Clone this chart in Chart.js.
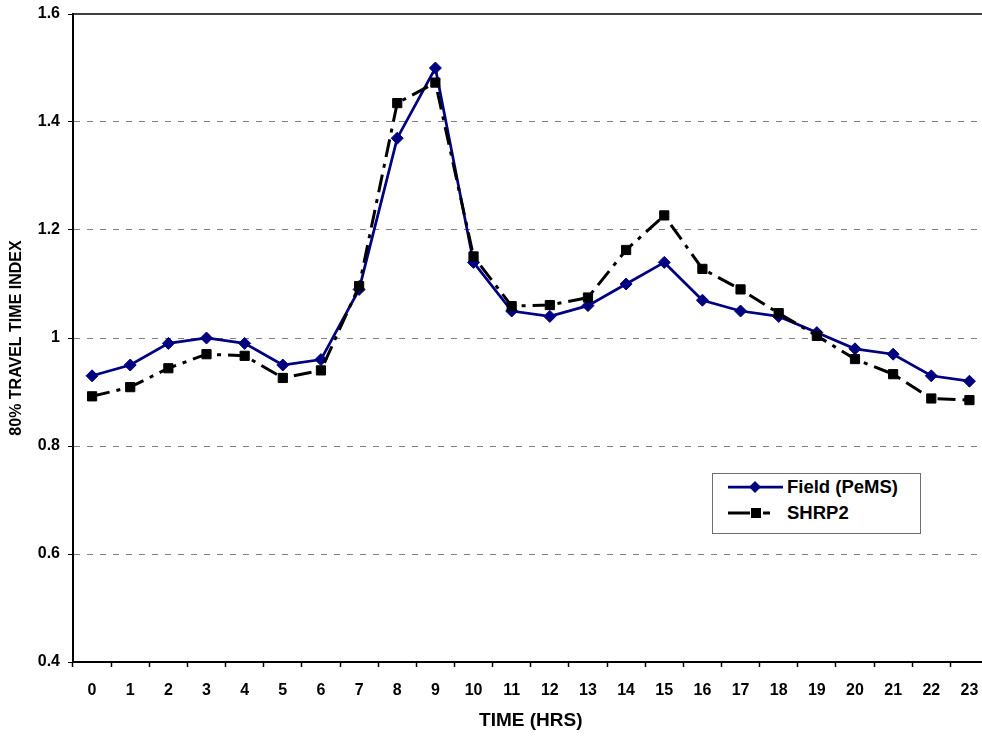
<!DOCTYPE html>
<html><head><meta charset="utf-8">
<script src="https://cdn.jsdelivr.net/npm/chart.js@4"></script>
<style>
html,body{margin:0;padding:0;background:#fff;overflow:hidden;width:982px;height:736px;}
#wrap{position:absolute;left:0;top:0;width:996px;height:736px;}
#legend{position:absolute;left:712px;top:473px;width:207px;height:59px;border:1px solid #6e6e6e;background:#fff;font:bold 18.5px "Liberation Sans",Arial,sans-serif;color:#000;}
.row{position:absolute;left:0;width:207px;height:22px;}
.row svg{position:absolute;left:15px;top:1px;}
.row span{position:absolute;left:74px;top:0;line-height:22px;white-space:nowrap;}
</style></head>
<body>
<div id="wrap"><canvas id="c" width="996" height="736"></canvas></div>
<div id="legend">
  <div class="row" style="top:2px">
    <svg width="58" height="20"><line x1="0" y1="10" x2="55" y2="10" stroke="#000080" stroke-width="2.75"/><polygon points="27,4 33,10 27,16 21,10" fill="#000080"/></svg>
    <span id="l0"></span>
  </div>
  <div class="row" style="top:28px">
    <svg width="58" height="20"><line x1="0" y1="10" x2="22" y2="10" stroke="#000" stroke-width="3"/><rect x="23" y="5" width="10" height="10" fill="#000"/><line x1="35" y1="10" x2="42" y2="10" stroke="#000" stroke-width="3"/></svg>
    <span id="l1"></span>
  </div>
</div>
<script>
const hours = ['0','1','2','3','4','5','6','7','8','9','10','11','12','13','14','15','16','17','18','19','20','21','22','23'];
const fieldValues = [0.93,0.95,0.99,1.00,0.99,0.95,0.96,1.09,1.37,1.50,1.14,1.05,1.04,1.06,1.10,1.14,1.07,1.05,1.04,1.01,0.98,0.97,0.93,0.92];
const shrp2Values = [0.892,0.909,0.944,0.970,0.967,0.926,0.940,1.096,1.435,1.473,1.151,1.059,1.061,1.075,1.163,1.227,1.128,1.090,1.046,1.004,0.961,0.933,0.888,0.885];
const yTickLabels = ['0.4','0.6','0.8','1','1.2','1.4','1.6'];
const seriesNames = ['Field (PeMS)','SHRP2'];
const yTitle = '80% TRAVEL TIME INDEX';
const xTitle = 'TIME (HRS)';
const FONT = '"Liberation Sans", Arial, sans-serif';

document.getElementById('l0').textContent = seriesNames[0];
document.getElementById('l1').textContent = seriesNames[1];

const topBorder = {
  id: 'topBorder',
  beforeDatasetsDraw(chart) {
    const {ctx, chartArea: a} = chart;
    const y = chart.scales.y.getPixelForValue(1.6);
    ctx.save();
    ctx.strokeStyle = '#000';
    ctx.lineWidth = 1.5;
    ctx.beginPath();
    ctx.moveTo(a.left, y);
    ctx.lineTo(a.right + 10, y);
    ctx.stroke();
    ctx.restore();
  }
};

new Chart(document.getElementById('c'), {
  type: 'line',
  data: {
    labels: hours,
    datasets: [
      {label: seriesNames[0], data: fieldValues, borderColor: '#000080', backgroundColor: '#000080',
       borderWidth: 2.75, pointStyle: 'rectRot', pointRadius: 6, pointBorderWidth: 1,
       pointBackgroundColor: '#000080', pointBorderColor: '#000080', tension: 0, order: 1},
      {label: seriesNames[1], data: shrp2Values, borderColor: '#000', backgroundColor: '#000',
       borderWidth: 3, borderDash: [18, 7, 4, 7], pointStyle: 'rect', pointRadius: 6.5, pointBorderWidth: 1,
       pointBackgroundColor: '#000', pointBorderColor: '#000', tension: 0, order: 0}
    ]
  },
  options: {
    responsive: false, animation: false, devicePixelRatio: 1,
    layout: {padding: {top: 14, right: 5, left: 0, bottom: 0}},
    plugins: {legend: {display: false}, tooltip: {enabled: false}},
    scales: {
      x: {
        type: 'category', offset: true,
        grid: {offset: true, drawOnChartArea: false, tickLength: 5, tickColor: '#000', tickWidth: 1.5},
        border: {color: '#000', width: 2},
        ticks: {color: '#000', font: {family: FONT, size: 16, weight: 'bold'}, padding: 14, maxRotation: 0, autoSkip: false},
        title: {display: true, text: xTitle, color: '#000', font: {family: FONT, size: 19, weight: 'bold'}, padding: {top: 0, bottom: 4}},
        afterFit(s) { s.height = 74; s.paddingLeft = 0; s.paddingRight = 0; }
      },
      y: {
        min: 0.4, max: 1.6,
        ticks: {stepSize: 0.2, color: '#000', font: {family: FONT, size: 16, weight: 'bold'}, padding: 8,
                callback: (v) => yTickLabels[Math.round((v - 0.4) / 0.2)]},
        grid: {
          color: (c) => (c.tick && (Math.abs(c.tick.value - 0.4) < 1e-6 || Math.abs(c.tick.value - 1.6) < 1e-6)) ? 'rgba(0,0,0,0)' : '#808080',
          lineWidth: 1, tickLength: 5, tickColor: '#000', tickBorderDash: [], tickWidth: 1
        },
        border: {color: '#000', width: 2, dash: [6, 7]},
        title: {display: true, text: yTitle, color: '#000', font: {family: FONT, size: 16, weight: 'bold'}, padding: {top: 7, bottom: 0}},
        afterFit(s) { s.width = 73; s.paddingTop = 0; s.paddingBottom = 0; }
      }
    }
  },
  plugins: [topBorder]
});
</script>
</body></html>
